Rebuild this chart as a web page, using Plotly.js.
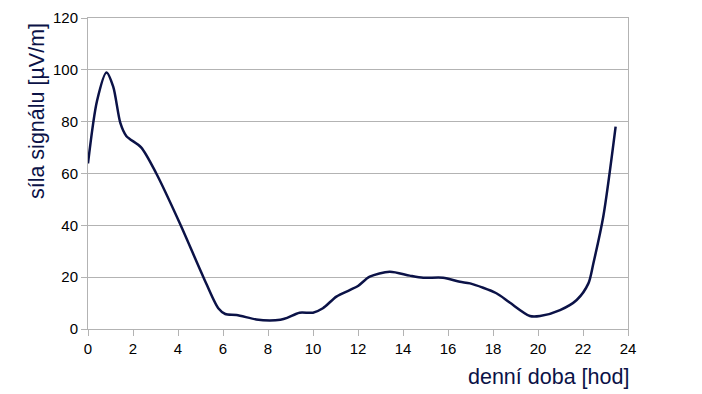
<!DOCTYPE html>
<html>
<head>
<meta charset="utf-8">
<script src="https://cdn.plot.ly/plotly-3.0.1.min.js"></script>
<style>html,body{margin:0;padding:0;background:#fff;}#chart{width:702px;height:394px;}</style>
</head>
<body>
<div id="chart"></div>
<script>
// hour of day
const hours = [0, 0.4, 0.82, 1.12, 1.44, 1.7, 2.36, 3.03, 4.08, 5.12, 5.79, 6.1, 6.6, 7.48, 8.08, 8.55, 8.85, 9.4, 10.0, 10.44, 11.04, 11.63, 12.0, 12.52, 13.41, 14.3, 14.9, 15.78, 16.53, 16.98, 18.15, 18.74, 19.64, 20.09, 20.98, 21.72, 22.24, 22.46, 22.9, 23.45];
// signal strength [µV/m]
const signal = [63.9, 88, 99.0, 93.5, 79.4, 74.5, 70.1, 60.1, 40.8, 20.2, 8.0, 5.8, 5.4, 3.7, 3.3, 3.6, 4.3, 6.3, 6.3, 8.0, 12.5, 15.0, 16.6, 20.2, 22.1, 20.6, 19.8, 19.8, 18.2, 17.6, 13.8, 10.2, 5.0, 5.0, 7.3, 11.2, 17.6, 25.3, 43.3, 78.1];

const xTicks = [0, 2, 4, 6, 8, 10, 12, 14, 16, 18, 20, 22, 24];
const yTicks = [0, 20, 40, 60, 80, 100, 120];

const navy = '#0b1247';
const grid = '#b3b3b3';
const fontFam = '"Liberation Sans", Arial, sans-serif';

Plotly.newPlot('chart', [{
  x: hours, y: signal, type: 'scatter', mode: 'lines',
  line: {color: navy, width: 2.5, shape: 'spline', smoothing: 0.8},
  hoverinfo: 'skip'
}], {
  width: 702, height: 394,
  margin: {l: 88, r: 74, t: 18, b: 65},
  paper_bgcolor: '#fff', plot_bgcolor: '#fff',
  showlegend: false,
  font: {family: fontFam, color: '#000', size: 15},
  xaxis: {
    range: [0, 24], tickvals: xTicks, ticktext: xTicks.map(String),
    showgrid: false, zeroline: false,
    showline: true, linecolor: grid, linewidth: 1, mirror: true,
    ticks: 'outside', ticklen: 6, tickcolor: grid, tickwidth: 1,
    tickfont: {family: fontFam, size: 15, color: '#000'}
  },
  yaxis: {
    range: [0, 120], tickvals: yTicks, ticktext: yTicks.map(String),
    showgrid: true, gridcolor: grid, gridwidth: 1, zeroline: false,
    showline: true, linecolor: grid, linewidth: 1, mirror: true,
    ticks: 'outside', ticklen: 6, tickcolor: grid, tickwidth: 1,
    tickfont: {family: fontFam, size: 15, color: '#000'}
  },
  annotations: [
    {text: 'síla signálu [µV/m]', xref: 'paper', yref: 'y', x: -0.093, y: 84.0,
     xanchor: 'center', yanchor: 'middle', textangle: -90, showarrow: false,
     font: {family: fontFam, size: 21.5, color: navy}},
    {text: 'denní doba [hod]', xref: 'paper', yref: 'paper', x: 1.006, y: -0.155,
     xanchor: 'right', yanchor: 'middle', showarrow: false,
     font: {family: fontFam, size: 21.5, color: navy}}
  ]
}, {displayModeBar: false, staticPlot: true});
</script>
</body>
</html>
